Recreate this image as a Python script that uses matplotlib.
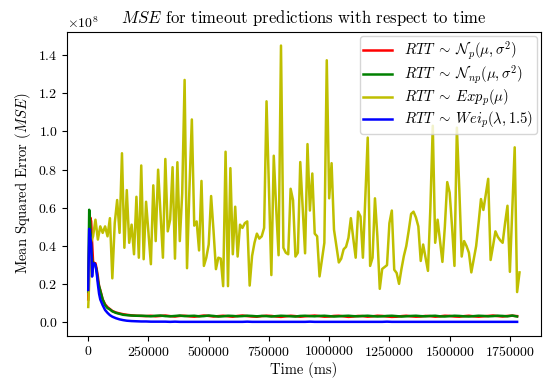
import numpy as np
import matplotlib
matplotlib.use("Agg")
import matplotlib.pyplot as plt

plt.rcParams['font.family'] = 'serif'
plt.rcParams['font.serif'] = ['cmr10']
plt.rcParams['mathtext.fontset'] = 'cm'
plt.rcParams['axes.unicode_minus'] = False
plt.rcParams['axes.formatter.use_mathtext'] = True

# time grid of the exponential predictor (ms)
exp_time = np.arange(0, 1800000, 10000)

# MSE values, in units of 1e8
exp_mse = [
    0.081, 0.417, 0.451, 0.538, 0.434, 0.503, 0.469, 0.503, 0.451, 0.546,
    0.231, 0.52, 0.641, 0.469, 0.886, 0.391, 0.693, 0.417, 0.512, 0.357,
    0.658, 0.339, 0.822, 0.331, 0.632, 0.469, 0.305, 0.718, 0.426, 0.80,
    0.57, 0.339, 0.856, 0.477, 0.538, 0.813, 0.334, 0.839, 0.426, 0.675,
    1.27, 0.284, 0.70, 1.063, 0.507, 0.529, 0.377, 0.741, 0.296, 0.339,
    0.408, 0.662, 0.48, 0.279, 0.339, 0.334, 0.19, 0.894, 0.19, 0.808,
    0.357, 0.606, 0.345, 0.512, 0.495, 0.52, 0.529, 0.193, 0.348, 0.417,
    0.465, 0.439, 0.451, 0.495, 1.158, 0.70, 0.248, 0.873, 0.60, 0.352,
    1.45, 0.391, 0.365, 0.357, 0.70, 0.64, 0.345, 0.365, 0.84, 0.60,
    0.362, 0.934, 0.586, 0.78, 0.465, 0.451, 0.241, 0.33, 0.417, 1.373,
    0.65, 0.834, 0.486, 0.40, 0.314, 0.334, 0.383, 0.396, 0.443, 0.546,
    0.44, 0.339, 0.58, 0.555, 0.339, 0.65, 0.968, 0.296, 0.339, 0.65,
    0.451, 0.176, 0.28, 0.29, 0.30, 0.52, 0.586, 0.276, 0.259, 0.202,
    0.28, 0.348, 0.40, 0.48, 0.568, 0.58, 0.55, 0.503, 0.322, 0.408,
    0.34, 0.27, 0.60, 1.03, 0.417, 0.538, 0.43, 0.317, 0.50, 0.735,
    0.68, 0.5, 0.296, 1.02, 0.7, 0.345, 0.426, 0.40, 0.365, 0.262,
    0.331, 0.40, 0.52, 0.646, 0.589, 0.67, 0.752, 0.327, 0.40, 0.477,
    0.448, 0.43, 0.417, 0.52, 0.611, 0.265, 0.59, 0.917, 0.159, 0.262,
]

# time grid of the other predictors (denser at the start)
early_time = [0, 4000, 8000, 12000, 16000, 20000, 25000, 30000, 35000, 40000,
              45000, 50000, 60000, 70000, 80000, 90000, 100000, 115000, 130000,
              145000, 160000, 180000, 200000]
rtt_time = np.concatenate([early_time, np.arange(220000, 1800000, 20000)])

normal_p = [
    0.12, 0.40, 0.55, 0.53, 0.42, 0.32, 0.31, 0.31, 0.28, 0.24,
    0.19, 0.17, 0.12, 0.095, 0.08, 0.07, 0.06, 0.052, 0.047, 0.043,
    0.04, 0.037, 0.035,
    0.034, 0.033, 0.035, 0.032, 0.034, 0.036, 0.033, 0.031, 0.034, 0.035,
    0.032, 0.030, 0.033, 0.036, 0.034, 0.031, 0.033, 0.035, 0.032, 0.030,
    0.034, 0.036, 0.033, 0.031, 0.030, 0.033, 0.035, 0.034, 0.031, 0.029,
    0.032, 0.035, 0.033, 0.030, 0.032, 0.034, 0.036, 0.033, 0.030, 0.031,
    0.034, 0.035, 0.032, 0.029, 0.031, 0.034, 0.033, 0.030, 0.032, 0.035,
    0.034, 0.031, 0.029, 0.030, 0.033, 0.035, 0.032, 0.030, 0.031, 0.034,
    0.033, 0.030, 0.032, 0.035, 0.034, 0.031, 0.030, 0.033, 0.035, 0.032,
    0.030, 0.032, 0.034, 0.036, 0.033, 0.031, 0.034, 0.035, 0.033,
]

normal_np = [
    0.16, 0.59, 0.52, 0.40, 0.33, 0.30, 0.31, 0.30, 0.27, 0.22,
    0.19, 0.165, 0.12, 0.09, 0.075, 0.068, 0.058, 0.05, 0.045, 0.04,
    0.038, 0.036, 0.035,
    0.035, 0.034, 0.032, 0.035, 0.036, 0.033, 0.032, 0.034, 0.036, 0.033,
    0.034, 0.035, 0.032, 0.033, 0.036, 0.034, 0.031, 0.032, 0.035, 0.034,
    0.032, 0.033, 0.035, 0.034, 0.032, 0.034, 0.033, 0.031, 0.033, 0.035,
    0.034, 0.032, 0.031, 0.034, 0.035, 0.033, 0.032, 0.034, 0.035, 0.033,
    0.031, 0.032, 0.034, 0.035, 0.033, 0.032, 0.034, 0.035, 0.033, 0.031,
    0.032, 0.034, 0.035, 0.033, 0.031, 0.032, 0.034, 0.035, 0.033, 0.032,
    0.034, 0.035, 0.032, 0.031, 0.033, 0.035, 0.034, 0.032, 0.031, 0.033,
    0.035, 0.034, 0.032, 0.033, 0.035, 0.034, 0.032, 0.036, 0.031,
]

weibull_p = [
    0.17, 0.49, 0.46, 0.41, 0.24, 0.30, 0.31, 0.30, 0.26, 0.20,
    0.15, 0.12, 0.09, 0.065, 0.05, 0.038, 0.03, 0.022, 0.016, 0.012,
    0.009, 0.007, 0.006,
    0.005, 0.005, 0.004, 0.004, 0.004, 0.004, 0.003, 0.004, 0.003, 0.003,
    0.003, 0.003, 0.003, 0.003, 0.003, 0.003, 0.003, 0.003, 0.003, 0.003,
    0.003, 0.003, 0.004, 0.003, 0.003, 0.003, 0.003, 0.003, 0.003, 0.003,
    0.003, 0.003, 0.003, 0.003, 0.003, 0.004, 0.003, 0.003, 0.003, 0.003,
    0.003, 0.003, 0.003, 0.003, 0.003, 0.003, 0.003, 0.003, 0.003, 0.003,
    0.003, 0.004, 0.003, 0.003, 0.003, 0.003, 0.003, 0.003, 0.003, 0.003,
    0.003, 0.003, 0.003, 0.003, 0.003, 0.003, 0.003, 0.003, 0.003, 0.003,
    0.003, 0.003, 0.003, 0.003, 0.003, 0.003, 0.003, 0.003, 0.003,
]

scale = 1e8

fig, ax = plt.subplots(figsize=(5.51, 3.78), dpi=100)
fig.subplots_adjust(left=0.121, right=0.982, bottom=0.112, top=0.916)

lw = 1.8
ax.plot(rtt_time, np.array(normal_p) * scale, color='r', lw=lw,
        label=r'$RTT\;\sim\;\mathcal{N}_p(\mu,\sigma^2)$')
ax.plot(rtt_time, np.array(normal_np) * scale, color='g', lw=lw,
        label=r'$RTT\;\sim\;\mathcal{N}_{np}(\mu,\sigma^2)$')
ax.plot(exp_time, np.array(exp_mse) * scale, color='y', lw=lw,
        label=r'$RTT\;\sim\;Exp_p(\mu)$')
ax.plot(rtt_time, np.array(weibull_p) * scale, color='b', lw=lw,
        label=r'$RTT\;\sim\;Wei_p(\lambda,1.5)$')

ax.set_xticks(np.arange(0, 1750001, 250000))
ax.ticklabel_format(axis='x', style='plain')
ax.tick_params(labelsize=10, pad=3)
ax.set_title(r'$MSE$ for timeout predictions with respect to time', fontsize=12)
ax.set_xlabel('Time (ms)', fontsize=10.5, labelpad=2.5)
ax.set_ylabel(r'Mean Squared Error ($MSE$)', fontsize=10.5, labelpad=4)
ax.legend(loc='upper right', fontsize=10.5, handlelength=2.0,
          borderaxespad=0.3, labelspacing=0.12, borderpad=0.25)

fig.savefig('out.png', dpi=100)
